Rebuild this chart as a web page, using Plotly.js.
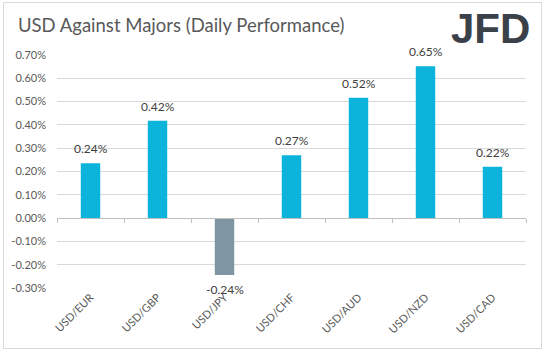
<!DOCTYPE html>
<html>
<head>
<meta charset="utf-8">
<script src="https://cdn.plot.ly/plotly-3.0.1.min.js"></script>
<style>
html,body{margin:0;padding:0;background:#fff;}
#wrap{position:relative;width:544px;height:352px;}
#chart{width:544px;height:352px;}
#frame{position:absolute;left:3px;top:2px;width:537px;height:345px;border:1px solid #d9d9d9;pointer-events:none;}
</style>
</head>
<body>
<div id="wrap"><div id="chart"></div><div id="frame"></div></div>
<script>
const categories = ['USD/EUR','USD/GBP','USD/JPY','USD/CHF','USD/AUD','USD/NZD','USD/CAD'];
const values = [0.235, 0.418, -0.244, 0.270, 0.516, 0.652, 0.220];
const labels = ['0.24%','0.42%','-0.24%','0.27%','0.52%','0.65%','0.22%'];
const yTicks = [-0.3,-0.2,-0.1,0,0.1,0.2,0.3,0.4,0.5,0.6,0.7];
const yTickText = ['-0.30%','-0.20%','-0.10%','0.00%','0.10%','0.20%','0.30%','0.40%','0.50%','0.60%','0.70%'];

const POS = '#0cb4dc', NEG = '#7f95a2';
const FONT = 'Lato, "Open Sans", sans-serif';

const bars = {
  type: 'bar', x: categories, y: values,
  marker: {color: values.map(v => v < 0 ? NEG : POS)},
  hoverinfo: 'skip', showlegend: false
};
const axisTrace = {
  type: 'scatter', mode: 'markers', x: categories, y: categories.map(() => null),
  xaxis: 'x2', yaxis: 'y', hoverinfo: 'skip', showlegend: false
};

const annotations = categories.map((c, i) => ({
  x: c, y: values[i], xref: 'x', yref: 'y', text: labels[i], showarrow: false,
  yanchor: values[i] >= 0 ? 'bottom' : 'top', yshift: values[i] >= 0 ? 5 : -5,
  font: {family: FONT, size: 12, color: '#404040'}
}));
annotations.push({
  xref: 'paper', yref: 'paper', x: 1.012, y: 1.113, xanchor: 'right', yanchor: 'middle',
  text: '<b>JFD</b>', showarrow: false,
  font: {family: '"Liberation Sans", Arial, sans-serif', size: 42, color: '#3b4149'}
});

const layout = {
  width: 544, height: 352,
  margin: {l: 57, r: 18, t: 55, b: 64},
  paper_bgcolor: '#ffffff', plot_bgcolor: '#ffffff',
  title: {text: 'USD Against Majors (Daily Performance)', x: 0.033, xanchor: 'left', xref: 'container',
          y: 0.927, yanchor: 'middle', yref: 'container',
          font: {family: FONT, size: 18.5, color: '#595959'}},
  bargap: 0.71,
  xaxis: {
    type: 'category', categoryarray: categories, range: [-0.5, 6.5],
    tickangle: -45, showgrid: false, zeroline: false, showline: false, ticks: '',
    tickfont: {family: FONT, size: 11, color: '#595959'}
  },
  xaxis2: {
    type: 'category', categoryarray: categories, range: [-0.5, 6.5],
    overlaying: 'x', anchor: 'free', position: 0.3, side: 'bottom',
    showline: true, linecolor: '#bfbfbf', linewidth: 1,
    ticks: 'outside', tickson: 'boundaries', ticklen: 4, tickcolor: '#bfbfbf',
    showticklabels: false, showgrid: false, zeroline: false
  },
  yaxis: {
    range: [-0.3, 0.7], tickvals: yTicks, ticktext: yTickText,
    showgrid: true, gridcolor: '#d9d9d9', gridwidth: 1, zeroline: false, showline: false,
    ticks: '', ticklabelstandoff: 10,
    tickfont: {family: FONT, size: 11, color: '#595959'}
  },
  annotations: annotations
};

Plotly.newPlot('chart', [bars, axisTrace], layout, {staticPlot: true, displayModeBar: false});
</script>
</body>
</html>
